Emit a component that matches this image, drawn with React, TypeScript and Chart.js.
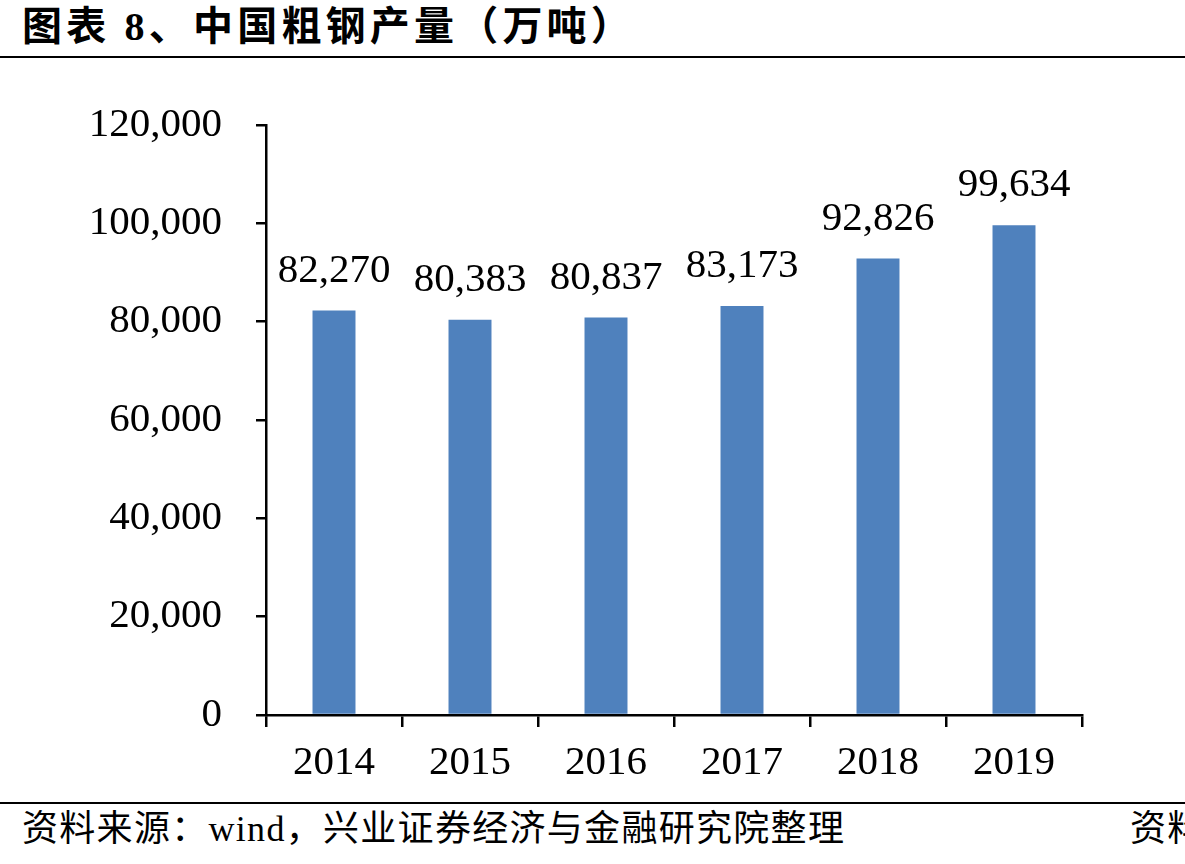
import React, { useEffect, useRef } from "react";
import { Chart, registerables } from "chart.js";

Chart.register(...registerables);

const categories: string[] = ["2014", "2015", "2016", "2017", "2018", "2019"];
const production: number[] = [82270, 80383, 80837, 83173, 92826, 99634];
const yMin = 0;
const yMax = 120000;
const yStep = 20000;

const titleText = "图表 8、中国粗钢产量（万吨）";
const sourceText = "资料来源：wind，兴业证券经济与金融研究院整理";
const sourceCut = "资料";

const SERIF = '"Liberation Serif", "Times New Roman", serif';
const BAR_BLUE = "#4F81BD";

const fmt = (v: number) => Number(v).toLocaleString("en-US");

const labelPlugin = {
  id: "barValueLabels",
  afterDatasetsDraw(chart: any) {
    const ctx = chart.ctx;
    const meta = chart.getDatasetMeta(0);
    ctx.save();
    ctx.font = `41px ${SERIF}`;
    ctx.fillStyle = "#000";
    ctx.textAlign = "center";
    ctx.textBaseline = "alphabetic";
    meta.data.forEach((bar: any, i: number) => {
      const v = chart.data.datasets[0].data[i];
      ctx.fillText(fmt(v), bar.x, bar.y - 29);
    });
    ctx.restore();
  },
};

export default function App() {
  const canvasRef = useRef<HTMLCanvasElement | null>(null);

  useEffect(() => {
    const canvas = canvasRef.current;
    if (!canvas) return;
    const chart = new Chart(canvas, {
      type: "bar",
      data: {
        labels: categories,
        datasets: [
          {
            data: production,
            backgroundColor: BAR_BLUE,
            borderWidth: 0,
            barPercentage: 0.316,
            categoryPercentage: 1,
          },
        ],
      },
      options: {
        responsive: false,
        animation: false,
        devicePixelRatio: 1,
        layout: { padding: { top: 65, right: 103, left: 0, bottom: 0 } },
        plugins: {
          legend: { display: false },
          tooltip: { enabled: false },
        },
        scales: {
          x: {
            grid: {
              offset: true,
              drawOnChartArea: false,
              drawTicks: true,
              tickLength: 12,
              color: "#000",
              lineWidth: 2.5,
            },
            border: { color: "#000", width: 2.5 },
            ticks: {
              font: { family: SERIF, size: 41 },
              color: "#000",
              padding: 12,
              maxRotation: 0,
              autoSkip: false,
            },
            afterFit: (s: any) => {
              s.height = 85;
            },
          },
          y: {
            min: yMin,
            max: yMax,
            grid: {
              drawOnChartArea: false,
              drawTicks: true,
              tickLength: 10,
              color: "#000",
              lineWidth: 2.5,
            },
            border: { color: "#000", width: 2.5 },
            ticks: {
              stepSize: yStep,
              font: { family: SERIF, size: 41 },
              color: "#000",
              padding: 34,
              callback: (v: any) => fmt(Number(v)),
            },
            afterFit: (s: any) => {
              s.width = 266;
            },
          },
        },
      },
      plugins: [labelPlugin],
    });
    return () => chart.destroy();
  }, []);

  return (
    <div
      style={{
        position: "fixed",
        left: 0,
        top: 0,
        width: 1185,
        height: 864,
        overflow: "hidden",
        background: "#fff",
      }}
    >
      <div
        style={{
          position: "absolute",
          left: 22,
          top: 7,
          fontFamily: '"Liberation Serif", "Noto Sans CJK SC", serif',
          fontWeight: 700,
          fontSize: 40,
          lineHeight: "40px",
          letterSpacing: 4.2,
          whiteSpace: "nowrap",
          color: "#000",
        }}
      >
        {titleText}
      </div>
      <div
        style={{
          position: "absolute",
          left: 0,
          top: 56,
          width: 1185,
          height: 2,
          background: "#000",
        }}
      />
      <canvas
        ref={canvasRef}
        width={1185}
        height={740}
        style={{ position: "absolute", left: 0, top: 60, width: 1185, height: 740 }}
      />
      <div
        style={{
          position: "absolute",
          left: 0,
          top: 802,
          width: 1185,
          height: 2,
          background: "#000",
        }}
      />
      <div
        style={{
          position: "absolute",
          left: 22,
          top: 811,
          fontFamily: '"Liberation Serif", "Noto Sans CJK SC", serif',
          fontSize: 36,
          lineHeight: "36px",
          letterSpacing: 1.3,
          whiteSpace: "nowrap",
          color: "#000",
        }}
      >
        {sourceText}
      </div>
      <div
        style={{
          position: "absolute",
          left: 1130,
          top: 811,
          fontFamily: '"Liberation Serif", "Noto Sans CJK SC", serif',
          fontSize: 36,
          lineHeight: "36px",
          letterSpacing: 1.3,
          whiteSpace: "nowrap",
          color: "#000",
        }}
      >
        {sourceCut}
      </div>
    </div>
  );
}
